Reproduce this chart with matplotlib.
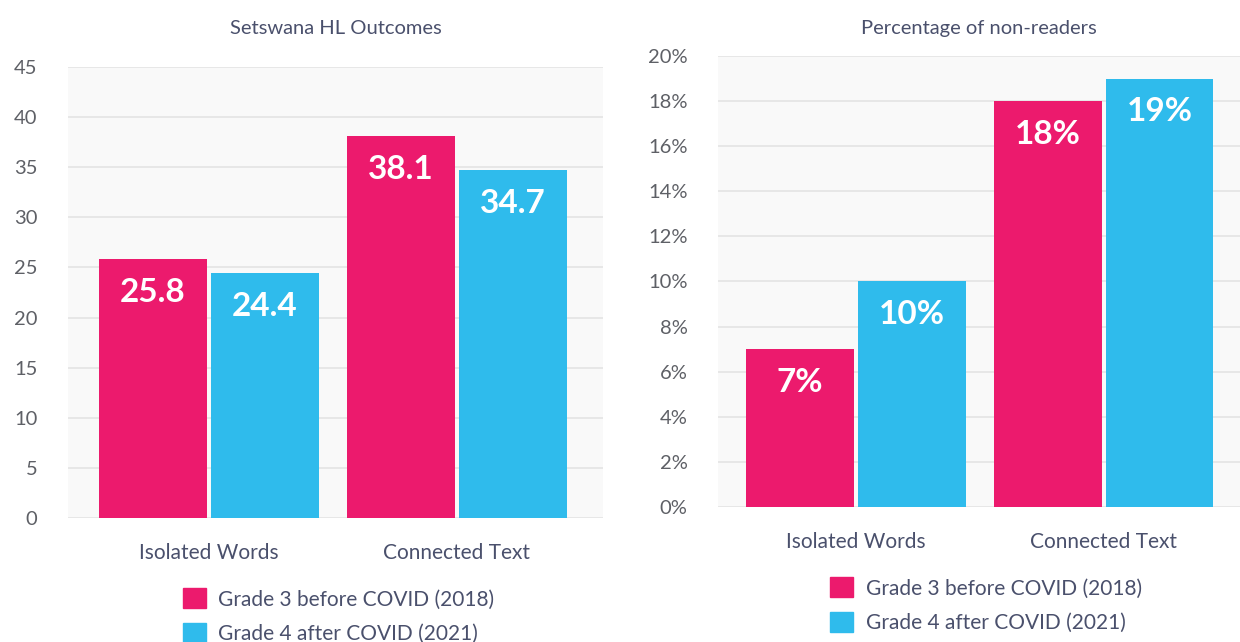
import numpy as np
import matplotlib.pyplot as plt
from matplotlib.patches import Patch
from matplotlib.ticker import FuncFormatter

# Dados
categorias = ["Isolated Words", "Connected Text"]
series = ["Grade 3 before COVID (2018)", "Grade 4 after COVID (2021)"]
resultados_2018 = [25.8, 38.1]
resultados_2021 = [24.4, 34.7]
nao_leitores_2018 = [7, 18]
nao_leitores_2021 = [10, 19]

rosa = "#ec1a6d"
azul = "#2fbbec"
cor_texto = "#4a506c"
cor_ticks = "#5e6066"

plt.rcParams["font.family"] = ["Lato", "DejaVu Sans"]

fig = plt.figure(figsize=(12.4, 6.42), dpi=100)
ax1 = fig.add_axes([0.0548, 0.1931, 0.4315, 0.7025])
ax2 = fig.add_axes([0.579, 0.2103, 0.421, 0.7025])

x = np.arange(len(categorias))
largura = 0.435
desloc = 0.226


def desenhar(ax, v1, v2, ylim, passo, fmt, titulo, xlim, pad_titulo):
    ax.set_facecolor("#f9f9f9")
    b1 = ax.bar(x - desloc, v1, largura, color=rosa, zorder=3)
    b2 = ax.bar(x + desloc, v2, largura, color=azul, zorder=3)
    for barras in (b1, b2):
        for b in barras:
            h = b.get_height()
            ax.annotate(fmt(h), (b.get_x() + b.get_width() / 2, h),
                        xytext=(0, -24), textcoords="offset points",
                        ha="center", va="center", color="white",
                        fontsize=24, fontweight="bold", zorder=4)
    ax.set_ylim(0, ylim)
    ax.set_xlim(*xlim)
    ax.set_yticks(np.arange(0, ylim + 0.001, passo))
    ax.yaxis.set_major_formatter(FuncFormatter(lambda v, p: fmt(v)))
    ax.grid(axis="y", color="#e4e4e4", linewidth=1.2, zorder=0)
    ax.set_xticks(x)
    ax.set_xticklabels(categorias, color=cor_texto, fontsize=15)
    ax.tick_params(axis="both", length=0)
    ax.tick_params(axis="x", pad=18)
    ax.tick_params(axis="y", labelsize=14.5, labelcolor=cor_ticks, pad=22)
    for s in ax.spines.values():
        s.set_visible(False)
    ax.set_title(titulo, color=cor_texto, fontsize=14.5, pad=pad_titulo)
    handles = [Patch(color=rosa), Patch(color=azul)]
    ax.legend(handles, series, loc="upper left", bbox_to_anchor=(0.215, -0.156),
              frameon=False, fontsize=15, handlelength=1.1, handleheight=1.1,
              handletextpad=0.6, labelspacing=0.65, borderpad=0,
              borderaxespad=0, labelcolor=cor_texto)


desenhar(ax1, resultados_2018, resultados_2021, 45, 5,
         lambda v: f"{v:g}", "Setswana HL Outcomes", (-0.569, 1.589), 24)
desenhar(ax2, nao_leitores_2018, nao_leitores_2021, 20, 2,
         lambda v: f"{v:g}%", "Percentage of non-readers", (-0.558, 1.551), 16)

fig.savefig("out.png", dpi=100)
